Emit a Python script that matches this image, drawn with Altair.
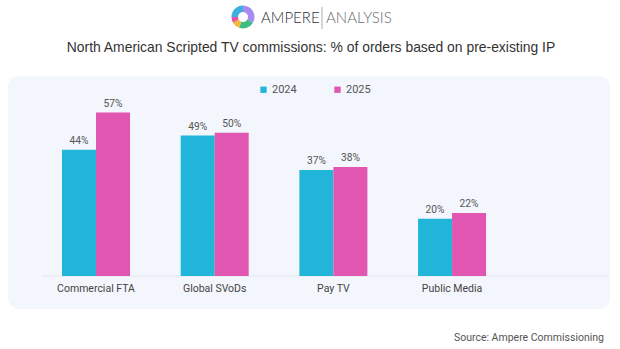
import altair as alt
import pandas as pd

categories = ["Commercial FTA", "Global SVoDs", "Pay TV", "Public Media"]
years = ["2024", "2025"]
values_2024 = [44, 49, 37, 20]
values_2025 = [57, 50, 38, 22]
year_colors = ["#21b5d9", "#e056b1"]

logo_parts = [120, 80, 40, 30, 90]
logo_colors = ["#a68cf0", "#3dbd84", "#f4b93a", "#e8559d", "#3db0dd"]

rows = []
for c, a, b in zip(categories, values_2024, values_2025):
    rows.append({"category": c, "year": "2024", "value": a})
    rows.append({"category": c, "year": "2025", "value": b})
df = pd.DataFrame(rows)
df["label"] = df["value"].astype(str) + "%"
cat_df = pd.DataFrame({"category": categories})

X0, Y0 = 42, 104  # plot origin in page pixels
W, H = 566, 172
FONT = "Roboto"

one = pd.DataFrame({"a": [0]})

xscale = alt.Scale(domain=categories, paddingInner=0.427, paddingOuter=0.598, align=0.141)

panel = alt.Chart(one).mark_rect(fill="#f3f6fc", cornerRadius=11).encode(
    x=alt.value(8 - X0), x2=alt.value(610 - X0),
    y=alt.value(76 - Y0), y2=alt.value(309 - Y0),
)

baseline = alt.Chart(one).mark_rule(color="#e3e7ee", strokeWidth=1).encode(
    x=alt.value(0), x2=alt.value(W), y=alt.value(H)
)

bars = alt.Chart(df).mark_bar().encode(
    x=alt.X("category:N", sort=categories, title=None, scale=xscale, axis=None),
    xOffset=alt.XOffset("year:N", sort=years),
    y=alt.Y("value:Q", scale=alt.Scale(domain=[0, 60]), axis=None),
    color=alt.Color(
        "year:N", sort=years,
        scale=alt.Scale(domain=years, range=year_colors),
        legend=alt.Legend(
            title=None, orient="none", direction="horizontal",
            legendX=216, legendY=-20, symbolType="square", symbolSize=40,
            symbolStrokeWidth=0, labelFont=FONT, labelFontSize=11,
            labelColor="#555555", columnPadding=35, labelOffset=3,
        ),
    ),
)

labels = alt.Chart(df).mark_text(
    dy=-9, font=FONT, fontSize=10.2, color="#555555", baseline="middle"
).encode(
    x=alt.X("category:N", sort=categories, scale=xscale, axis=None),
    xOffset=alt.XOffset("year:N", sort=years),
    y=alt.Y("value:Q", axis=None),
    text="label:N",
)

cat_labels = alt.Chart(cat_df).mark_text(
    font=FONT, fontSize=10.5, color="#444444", baseline="middle", align="center"
).encode(
    x=alt.X("category:N", sort=categories, scale=xscale, axis=None),
    y=alt.value(H + 13),
    text="category:N",
)

title = alt.Chart(one).mark_text(
    text="North American Scripted TV commissions: % of orders based on pre-existing IP",
    font="Liberation Sans", fontSize=13.9, color="#333333", align="center", baseline="middle",
).encode(x=alt.value(311 - X0), y=alt.value(48 - Y0))

logo_df = pd.DataFrame({"part": list(range(len(logo_parts))), "v": logo_parts, "c": logo_colors})
logo_arc = alt.Chart(logo_df).mark_arc(innerRadius=5, outerRadius=11.5).encode(
    theta=alt.Theta("v:Q", stack=True),
    order=alt.Order("part:Q"),
    color=alt.Color("c:N", scale=None),
    x=alt.value(243 - X0), y=alt.value(17 - Y0),
)

logo_t1 = alt.Chart(one).mark_text(
    text="AMPERE", font="Lato", fontSize=15, fontWeight=300, color="#2f2f3a",
    align="left", baseline="middle",
).encode(x=alt.value(261 - X0), y=alt.value(18 - Y0))
logo_sep = alt.Chart(one).mark_rule(color="#9a9aa0", strokeWidth=0.8).encode(
    x=alt.value(322 - X0), y=alt.value(7 - Y0), y2=alt.value(29 - Y0))
logo_t2 = alt.Chart(one).mark_text(
    text="ANALYSIS", font="Lato", fontSize=15, fontWeight=300, color="#6a6a72",
    align="left", baseline="middle",
).encode(x=alt.value(326 - X0), y=alt.value(18 - Y0))

source = alt.Chart(one).mark_text(
    text="Source: Ampere Commissioning", font="Roboto", fontSize=10.5, color="#555555",
    align="right", baseline="middle",
).encode(x=alt.value(604 - X0), y=alt.value(338 - Y0))

chart = alt.layer(
    panel, baseline, bars, labels, cat_labels, title, logo_arc, logo_t1, logo_sep, logo_t2, source
).resolve_scale(theta="independent").properties(
    width=W, height=H,
    autosize=alt.AutoSizeParams(type="none"),
    padding={"left": X0, "top": Y0, "right": 620 - X0 - W, "bottom": 349 - Y0 - H},
    background="white",
).configure_view(stroke=None)

chart.save("out.html", embed_options={"renderer": "svg", "actions": False})
